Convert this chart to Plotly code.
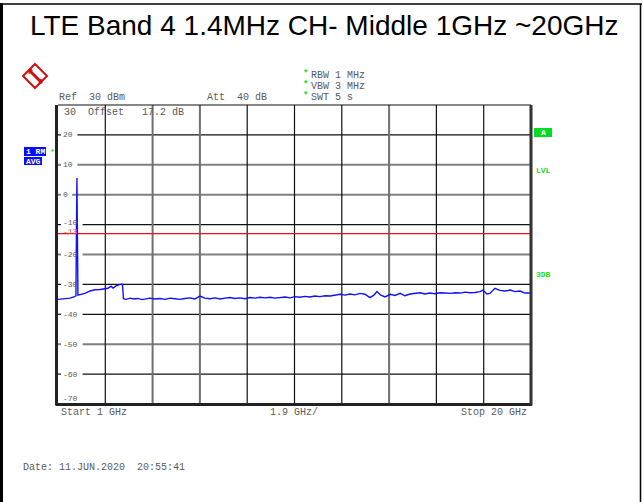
import plotly.graph_objects as go

# ---------------- data ----------------
START_GHZ = 1.0
STOP_GHZ = 20.0
STEP_GHZ = 1.9
REF_DBM = 30
BOTTOM_DBM = -70
LIMIT_DBM = -13

freq_ghz = [1.00, 1.16, 1.32, 1.48, 1.64, 1.72, 1.76, 1.80, 1.88, 2.08, 2.29, 2.49, 2.69,
            2.89, 3.01, 3.13, 3.21, 3.33, 3.45, 3.53, 3.59, 3.63, 3.73, 3.89, 4.05, 4.21,
            4.37, 4.53, 4.70, 4.90, 5.10, 5.30, 5.50, 5.70, 5.90, 6.10, 6.30, 6.50, 6.70,
            6.90, 7.10, 7.31, 7.51, 7.71, 7.91, 8.11, 8.31, 8.51, 8.71, 8.91, 9.11, 9.31,
            9.52, 9.72, 9.92, 10.12, 10.32, 10.52, 10.72, 10.92, 11.12, 11.32, 11.52, 11.73,
            11.93, 12.13, 12.33, 12.53, 12.73, 12.93, 13.13, 13.33, 13.53, 13.69, 13.81,
            13.97, 14.14, 14.34, 14.54, 14.74, 14.94, 15.14, 15.34, 15.54, 15.74, 15.94,
            16.14, 16.34, 16.55, 16.75, 16.95, 17.15, 17.35, 17.55, 17.75, 17.95, 18.07,
            18.23, 18.35, 18.55, 18.75, 18.96, 19.16, 19.36, 19.56, 19.76, 20.00]

level_dbm = [-35.0, -34.9, -34.8, -34.6, -34.2, -33.8, 5.6, -33.6, -33.4, -33.0, -32.2, -31.8,
             -31.7, -31.6, -31.3, -30.6, -31.2, -30.5, -30.1, -29.9, -30.0, -34.8, -35.0,
             -34.6, -34.9, -34.7, -35.1, -34.8, -34.6, -34.9, -34.7, -35.0, -34.6, -34.8,
             -35.0, -34.7, -34.5, -34.9, -33.9, -34.6, -34.8, -34.5, -34.9, -34.6, -34.4,
             -34.7, -34.5, -34.8, -34.4, -34.6, -34.3, -34.5, -34.3, -34.6, -34.4, -34.2,
             -34.5, -34.1, -34.3, -34.0, -34.2, -33.9, -34.1, -33.8, -33.9, -33.6, -33.3,
             -33.6, -33.2, -33.5, -33.0, -33.3, -34.4, -33.6, -32.4, -33.6, -34.2, -33.3,
             -33.7, -33.0, -33.8, -33.2, -32.9, -32.8, -33.2, -32.9, -33.1, -32.8, -32.9,
             -33.0, -32.8, -32.9, -32.6, -32.8, -32.7, -32.4, -31.9, -33.2, -33.0, -31.3,
             -32.0, -32.2, -31.9, -32.4, -32.2, -32.9, -32.9]

y_ticks = [20, 10, 0, -10, -20, -30, -40, -50, -60]
h_grid_dark = [True, False, False, True, False, True, True, False, True]
v_grid_dark = [True, False, False, True, True, True, False, True, True]

# ---------------- layout helpers ----------------
W, H = 643, 502
L, R, T, B = 58, 531, 105, 404


def px(x):
    return (x - L) / (R - L)


def py(y):
    return (B - y) / (B - T)


def ypx(v):
    return B - (v - BOTTOM_DBM) / (REF_DBM - BOTTOM_DBM) * (B - T)


MONO = "Liberation Mono, Courier New, monospace"
GREY = "#5a5a5a"
GREEN = "#22dd22"

fig = go.Figure()
fig.add_trace(go.Scatter(x=freq_ghz, y=level_dbm, mode="lines",
                         line=dict(color="#1010ff", width=1.4), hoverinfo="skip"))

shapes = []
# horizontal grid lines, broken where the level label sits
for v, dark in zip(y_ticks, h_grid_dark):
    ln = dict(color="#111111" if dark else "#808080", width=1.2 if dark else 2)
    label_end = 63 + 5.2 * len(str(v)) + 4
    for a, b in [(L, 61), (label_end, R)]:
        shapes.append(dict(type="line", xref="paper", yref="y", x0=px(a), x1=px(b), y0=v, y1=v,
                           line=ln, layer="below"))
n_div = round((STOP_GHZ - START_GHZ) / STEP_GHZ)
for i in range(1, n_div):
    f = START_GHZ + STEP_GHZ * i
    dark = v_grid_dark[i - 1]
    shapes.append(dict(type="line", xref="x", yref="paper", x0=f, x1=f, y0=0, y1=1, layer="below",
                       line=dict(color="#111111" if dark else "#707070", width=1.2 if dark else 2)))
# limit line
shapes.append(dict(type="line", xref="paper", yref="y", x0=0, x1=1, y0=LIMIT_DBM, y1=LIMIT_DBM,
                   layer="below", line=dict(color="#e81010", width=1.2)))
# plot border
shapes.append(dict(type="line", xref="paper", yref="paper", x0=0, x1=1, y0=1, y1=1,
                   line=dict(color="#111111", width=1.2)))
shapes.append(dict(type="line", xref="paper", yref="paper", x0=px(56.5), x1=px(56.5), y0=py(B + 1.5), y1=1,
                   line=dict(color="#222222", width=3)))
shapes.append(dict(type="line", xref="paper", yref="paper", x0=px(56), x1=px(532), y0=py(B + 0.5), y1=py(B + 0.5),
                   line=dict(color="#222222", width=3)))
shapes.append(dict(type="line", xref="paper", yref="paper", x0=px(531), x1=px(531), y0=py(B + 1.5), y1=1,
                   line=dict(color="#333333", width=3)))
# outer frame
shapes.append(dict(type="line", xref="paper", yref="paper", x0=px(1.5), x1=px(1.5), y0=py(H + 2), y1=py(3),
                   line=dict(color="black", width=3)))
shapes.append(dict(type="line", xref="paper", yref="paper", x0=px(0), x1=px(642), y0=py(4), y1=py(4),
                   line=dict(color="black", width=1.5)))
shapes.append(dict(type="line", xref="paper", yref="paper", x0=px(640.5), x1=px(640.5), y0=py(H + 2), y1=py(4),
                   line=dict(color="black", width=1.5)))
# blue trace-state boxes
for (x0, x1, y0, y1) in [(24, 46, 147, 156), (24, 42, 157, 165)]:
    shapes.append(dict(type="rect", xref="paper", yref="paper", x0=px(x0), x1=px(x1), y0=py(y1), y1=py(y0),
                       fillcolor="#0a0aff", line=dict(width=0)))
# green A box
shapes.append(dict(type="rect", xref="paper", yref="paper", x0=px(534), x1=px(552), y0=py(137), y1=py(128),
                   fillcolor="#00dd22", line=dict(width=0)))
# R&S logo (diamond)
cx, cy, r = 35, 76, 12
shapes.append(dict(type="path", xref="paper", yref="paper",
                   path=f"M {px(cx)} {py(cy - r)} L {px(cx + r)} {py(cy)} L {px(cx)} {py(cy + r)} L {px(cx - r)} {py(cy)} Z",
                   line=dict(color="#d01010", width=2)))
shapes.append(dict(type="line", xref="paper", yref="paper", x0=px(cx - 6), x1=px(cx + 6), y0=py(cy - 6), y1=py(cy + 6),
                   line=dict(color="#d01010", width=3)))

anns = []


def txt(x, y, s, size=10, color=GREY, anchor="left", font=MONO, bg=None, bold=False):
    d = dict(xref="paper", yref="paper", x=px(x), y=py(y), text=f"<b>{s}</b>" if bold else s,
             showarrow=False, xanchor=anchor, yanchor="middle",
             font=dict(family=font, size=size, color=color), borderpad=0)
    if bg:
        d["bgcolor"] = bg
    anns.append(d)


txt(324, 26, "LTE Band 4 1.4MHz CH- Middle 1GHz ~20GHz", size=28, color="black",
    anchor="center", font="Liberation Sans, Arial, sans-serif")
txt(58, 97, "Ref  30 dBm")
txt(206, 97, "Att  40 dB")
txt(310, 75, "RBW 1 MHz")
txt(310, 86, "VBW 3 MHz")
txt(310, 97, "SWT 5 s")
for yy in (74, 85, 96):
    txt(305, yy, "*", size=9, color=GREEN, anchor="center", bold=True)
txt(63, 112, "30  Offset   17.2 dB")
for v in y_ticks:
    yy = ypx(v)
    if v == -10:
        yy -= 2
    txt(62, yy, str(v), size=8)
txt(62, 398, str(BOTTOM_DBM), size=8)
txt(62, ypx(LIMIT_DBM) - 2.5, str(LIMIT_DBM), size=8, color="#ff4040")
txt(60, 412, f"Start {START_GHZ:g} GHz")
txt(294, 412, f"{STEP_GHZ:g} GHz/", anchor="center")
txt(528, 412, f"Stop {STOP_GHZ:g} GHz", anchor="right")
txt(22, 467, "Date: 11.JUN.2020  20:55:41")
txt(35, 151.5, "1 RM", size=8, color="white", anchor="center", bold=True)
txt(33, 161, "AVG", size=8, color="white", anchor="center", bold=True)
txt(52, 151, "*", size=8, color=GREEN, anchor="center", bold=True)
txt(543, 132.5, "A", size=8, color="white", anchor="center", bold=True)
txt(535, 170, "LVL", size=8, color=GREEN, bold=True)
txt(535, 274, "3DB", size=8, color=GREEN, bold=True)
txt(30, 71, "R", size=8, color="#d01010", anchor="center", bold=True)
txt(40, 81, "S", size=8, color="#d01010", anchor="center", bold=True)

fig.update_layout(
    width=W, height=H, autosize=False,
    margin=dict(l=L, r=W - R, t=T, b=H - B, pad=0),
    paper_bgcolor="white", plot_bgcolor="white",
    showlegend=False,
    xaxis=dict(range=[START_GHZ, STOP_GHZ], showgrid=False, zeroline=False, showticklabels=False,
               ticks="", showline=False, fixedrange=True),
    yaxis=dict(range=[BOTTOM_DBM, REF_DBM], showgrid=False, zeroline=False, showticklabels=False,
               ticks="", showline=False, fixedrange=True),
    shapes=shapes, annotations=anns,
)

fig.write_html("out.html", config={"displayModeBar": False},
               post_script="document.body.style.margin='0';document.body.style.overflow='hidden';")
